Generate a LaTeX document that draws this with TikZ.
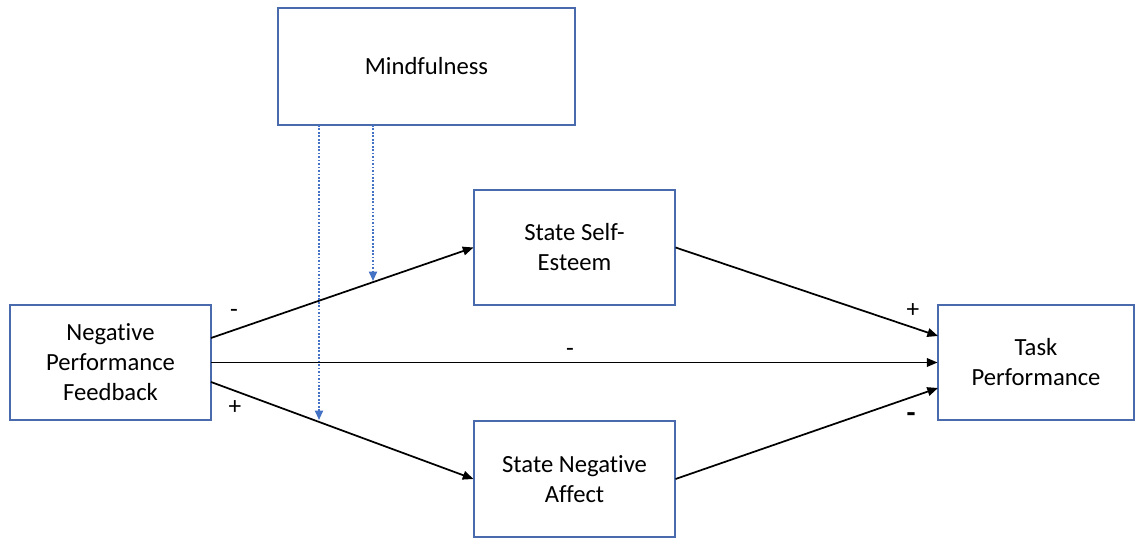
\documentclass[tikz,border=0pt]{standalone}
\usepackage{fontspec}
\setmainfont{Carlito}[Ligatures=CommonOff]
\usetikzlibrary{arrows.meta}
\definecolor{boxblue}{HTML}{4A6AAE}
\definecolor{dotblue}{HTML}{4472C4}
\begin{document}
\begin{tikzpicture}[x=0.75pt,y=-0.75pt,
  box/.style={draw=boxblue,line width=0.8pt,fill=white,inner sep=0pt,
    align=center,font=\fontsize{18.5}{22.5}\selectfont},
  arr/.style={line width=1.3pt,-{Triangle[length=8pt,width=6.5pt]}},
  mod/.style={draw=dotblue,line width=1.3pt,dash pattern=on 1.3pt off 1.3pt,-{Triangle[length=7pt,width=6pt]}},
  lab/.style={font=\fontsize{19}{20}\selectfont,inner sep=0pt}]
\useasboundingbox (0,0) rectangle (1135,538);
\node[box,minimum width=297*0.75pt,minimum height=117*0.75pt] (mind) at (426.5,66.5) {Mindfulness};
\node[box,minimum width=201*0.75pt,minimum height=115*0.75pt] (sse) at (574.5,247.5) {State Self-\\Esteem};
\node[box,minimum width=201*0.75pt,minimum height=115*0.75pt] (npf) at (110.5,362.5) {Negative\\Performance\\Feedback};
\node[box,minimum width=196*0.75pt,minimum height=115*0.75pt] (tp) at (1036,362.5) {Task\\Performance};
\node[box,minimum width=201*0.75pt,minimum height=116*0.75pt] (sna) at (574.5,479) {State Negative\\Affect};
\coordinate (a1) at (211,338);
\coordinate (a2) at (211,362.5);
\coordinate (a3) at (211,382);
\draw[arr] (a1) -- (sse.west);
\draw[arr] (a2) -- (tp.west);
\draw[arr] (a3) -- (sna.west);
\draw[arr] (sse.east) -- (938,336);
\draw[arr] (sna.east) -- (938,388);
\coordinate (m1) at (319,125);
\coordinate (m2) at (373,125);
\coordinate (t1) at (319,420);
\coordinate (t2) at (373,281);
\draw[mod] (m1) -- (t1);
\draw[mod] (m2) -- (t2);
\node[lab] (l1) at (234,313) {-};
\node[lab] (l2) at (235,408) {+};
\node[lab] (l3) at (913,311) {+};
\node[lab] (l4) at (570,352) {-};
\node[lab,font=\fontsize{22}{22}\selectfont\bfseries] (l5) at (911,418) {-};
\end{tikzpicture}
\end{document}
